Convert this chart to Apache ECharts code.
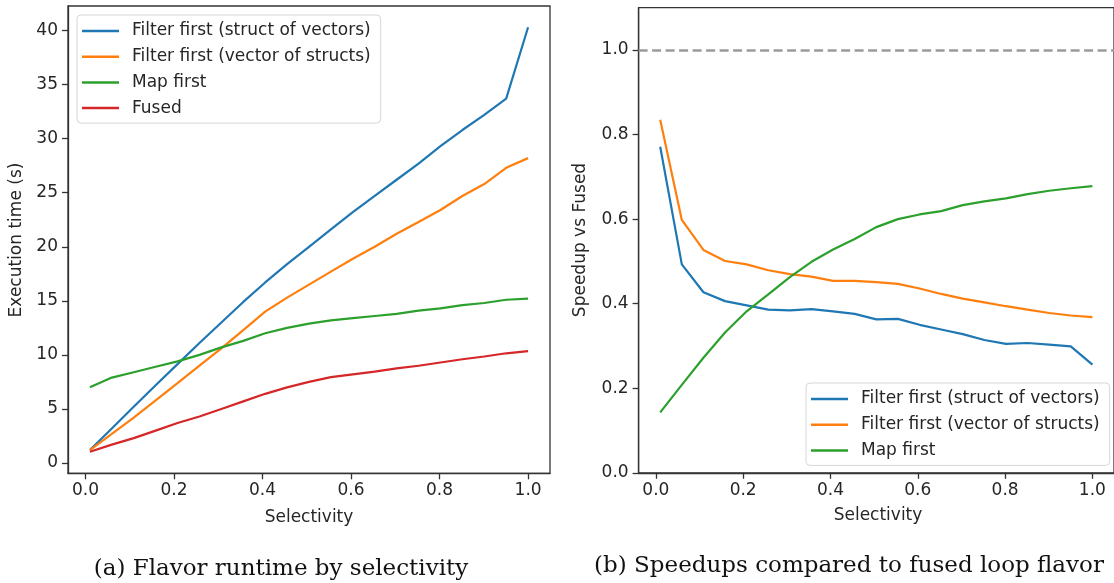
<!DOCTYPE html>
<html>
<head>
<meta charset="utf-8">
<script src="https://cdn.jsdelivr.net/npm/echarts@6/dist/echarts.min.js"></script>
<style>
  html, body { margin: 0; padding: 0; background: #fff; }
  #chart { width: 1114px; height: 583px; }
</style>
</head>
<body>
<div id="chart"></div>
<script>
// Selectivity sample points (shared by both panels)
const selectivity = [0.01, 0.0595, 0.109, 0.1585, 0.208, 0.2575, 0.307, 0.3565, 0.406, 0.4555,
  0.505, 0.5545, 0.604, 0.6535, 0.703, 0.7525, 0.802, 0.8515, 0.901, 0.9505, 1.0];

// (a) execution time in seconds
const timeStructOfVectors = [1.2, 3.2, 5.2, 7.2, 9.15, 11.1, 13.0, 14.9, 16.7, 18.4,
  20.0, 21.6, 23.2, 24.7, 26.2, 27.7, 29.3, 30.8, 32.2, 33.7, 40.3];
const timeVectorOfStructs = [1.2, 2.7, 4.2, 5.8, 7.4, 9.0, 10.6, 12.3, 14.0, 15.3,
  16.5, 17.7, 18.9, 20.0, 21.2, 22.3, 23.4, 24.7, 25.8, 27.3, 28.2];
const timeMapFirst = [7.0, 7.9, 8.4, 8.9, 9.4, 10.0, 10.7, 11.3, 12.0, 12.5,
  12.9, 13.2, 13.4, 13.6, 13.8, 14.1, 14.3, 14.6, 14.8, 15.1, 15.2];
const timeFused = [1.05, 1.7, 2.3, 3.0, 3.7, 4.3, 5.0, 5.7, 6.4, 7.0,
  7.5, 7.95, 8.2, 8.45, 8.75, 9.0, 9.3, 9.6, 9.85, 10.15, 10.35];

// (b) speedup relative to the fused loop
const speedStructOfVectors = [0.771, 0.493, 0.427, 0.406, 0.396, 0.386, 0.384, 0.387, 0.382, 0.376,
  0.363, 0.364, 0.350, 0.339, 0.328, 0.314, 0.305, 0.307, 0.303, 0.299, 0.256];
const speedVectorOfStructs = [0.835, 0.598, 0.527, 0.501, 0.493, 0.479, 0.470, 0.464, 0.454, 0.454,
  0.451, 0.447, 0.436, 0.423, 0.412, 0.403, 0.394, 0.386, 0.378, 0.372, 0.368];
const speedMapFirst = [0.143, 0.208, 0.272, 0.332, 0.382, 0.422, 0.463, 0.499, 0.528, 0.553,
  0.581, 0.600, 0.611, 0.619, 0.633, 0.642, 0.649, 0.659, 0.667, 0.673, 0.678];

// Tick labels
const xTicks = [0.0, 0.2, 0.4, 0.6, 0.8, 1.0];
const timeTicks = [0, 5, 10, 15, 20, 25, 30, 35, 40];
const speedTicks = [0.0, 0.2, 0.4, 0.6, 0.8, 1.0];
const parityLevel = 1.0;

const names = {
  sov: 'Filter first (struct of vectors)',
  vos: 'Filter first (vector of structs)',
  map: 'Map first',
  fused: 'Fused'
};
const colors = { sov: '#1f77b4', vos: '#ff7f0e', map: '#2ca02c', fused: '#d62728' };

const FONT = 'DejaVu Sans';
const INK = '#262626';
const SPINE = '#333333';

function pairs(ys) { return selectivity.map((x, i) => [x, ys[i]]); }

function lineSeries(key, ys, axisIndex, extra) {
  return Object.assign({
    name: names[key],
    type: 'line',
    xAxisIndex: axisIndex,
    yAxisIndex: axisIndex,
    data: pairs(ys),
    showSymbol: false,
    symbol: 'none',
    smooth: false,
    animation: false,
    lineStyle: { color: colors[key], width: 2.2 },
    itemStyle: { color: colors[key] },
    clip: true
  }, extra || {});
}

function xAxisDef(gridIndex) {
  return {
    type: 'value', gridIndex: gridIndex,
    min: -0.0395, max: 1.0495,
    splitLine: { show: false },
    axisLine: { show: true, onZero: false, lineStyle: { color: SPINE, width: 1.3 } },
    axisTick: { show: true, length: 6, customValues: xTicks, lineStyle: { color: SPINE, width: 1.3 } },
    axisLabel: {
      customValues: xTicks, margin: 9, color: INK, fontFamily: FONT, fontSize: 17,
      formatter: v => v.toFixed(1)
    }
  };
}

function yAxisDef(gridIndex, min, max, ticks, fmt) {
  return {
    type: 'value', gridIndex: gridIndex,
    min: min, max: max,
    splitLine: { show: false },
    axisLine: { show: true, onZero: false, lineStyle: { color: SPINE, width: 1.3 } },
    axisTick: { show: true, length: 6, customValues: ticks, lineStyle: { color: SPINE, width: 1.3 } },
    axisLabel: {
      customValues: ticks, margin: 10, color: INK, fontFamily: FONT, fontSize: 17,
      formatter: fmt
    }
  };
}

function legendDef(data, pos) {
  return Object.assign({
    data: data,
    orient: 'vertical',
    icon: 'rect',
    itemWidth: 37,
    itemHeight: 2.5,
    itemGap: 7.7,
    padding: [7, 10, 6, 5],
    backgroundColor: 'rgba(255,255,255,0.85)',
    borderColor: '#d6d6d6',
    borderWidth: 1,
    borderRadius: 4,
    selectedMode: false,
    textStyle: {
      fontFamily: FONT, fontSize: 17, color: INK, lineHeight: 18,
      padding: [0, 0, 0, 8]
    }
  }, pos);
}

const chart = echarts.init(document.getElementById('chart'), null, { renderer: 'canvas' });

const option = {
  backgroundColor: '#ffffff',
  animation: false,
  grid: [
    { left: 68, top: 6, width: 482, height: 467.3, show: true, borderColor: SPINE, borderWidth: 1.3, backgroundColor: 'transparent' },
    { left: 638.6, top: 7.7, width: 479.2, height: 465.1, show: true, borderColor: SPINE, borderWidth: 1.3, backgroundColor: 'transparent' }
  ],
  xAxis: [xAxisDef(0), xAxisDef(1)],
  yAxis: [
    yAxisDef(0, -0.95, 42.27, timeTicks, v => String(Math.round(v))),
    yAxisDef(1, 0, 1.1, speedTicks, v => v.toFixed(1))
  ],
  legend: [
    legendDef([names.sov, names.vos, names.map, names.fused], { left: 77, top: 15 }),
    legendDef([names.sov, names.vos, names.map], { left: 806, top: 383 })
  ],
  series: [
    lineSeries('sov', timeStructOfVectors, 0),
    lineSeries('vos', timeVectorOfStructs, 0),
    lineSeries('map', timeMapFirst, 0),
    lineSeries('fused', timeFused, 0),
    lineSeries('sov', speedStructOfVectors, 1, {
      markLine: {
        silent: true,
        symbol: ['none', 'none'],
        label: { show: false },
        lineStyle: { color: '#9a9a9a', type: [9, 4.5], width: 2.5 },
        data: [{ yAxis: parityLevel }]
      }
    }),
    lineSeries('vos', speedVectorOfStructs, 1),
    lineSeries('map', speedMapFirst, 1)
  ],
  graphic: [
    { type: 'text', x: 17, y: 240, rotation: Math.PI / 2,
      style: { text: 'Execution time (s)', fontFamily: FONT, fontSize: 17, fill: INK, textAlign: 'center', textVerticalAlign: 'middle' } },
    { type: 'text', x: 581, y: 240, rotation: Math.PI / 2,
      style: { text: 'Speedup vs Fused', fontFamily: FONT, fontSize: 17, fill: INK, textAlign: 'center', textVerticalAlign: 'middle' } },
    { type: 'text', x: 309, y: 518,
      style: { text: 'Selectivity', fontFamily: FONT, fontSize: 17, fill: INK, textAlign: 'center', textVerticalAlign: 'middle' } },
    { type: 'text', x: 878, y: 516,
      style: { text: 'Selectivity', fontFamily: FONT, fontSize: 17, fill: INK, textAlign: 'center', textVerticalAlign: 'middle' } },
    { type: 'text', x: 281, y: 569,
      style: { text: '(a) Flavor runtime by selectivity', fontFamily: 'DejaVu Serif', fontSize: 23, fill: '#111', textAlign: 'center', textVerticalAlign: 'middle' } },
    { type: 'text', x: 849, y: 566,
      style: { text: '(b) Speedups compared to fused loop flavor', fontFamily: 'DejaVu Serif', fontSize: 23, fill: '#111', textAlign: 'center', textVerticalAlign: 'middle' } }
  ]
};

chart.setOption(option);
</script>
</body>
</html>
